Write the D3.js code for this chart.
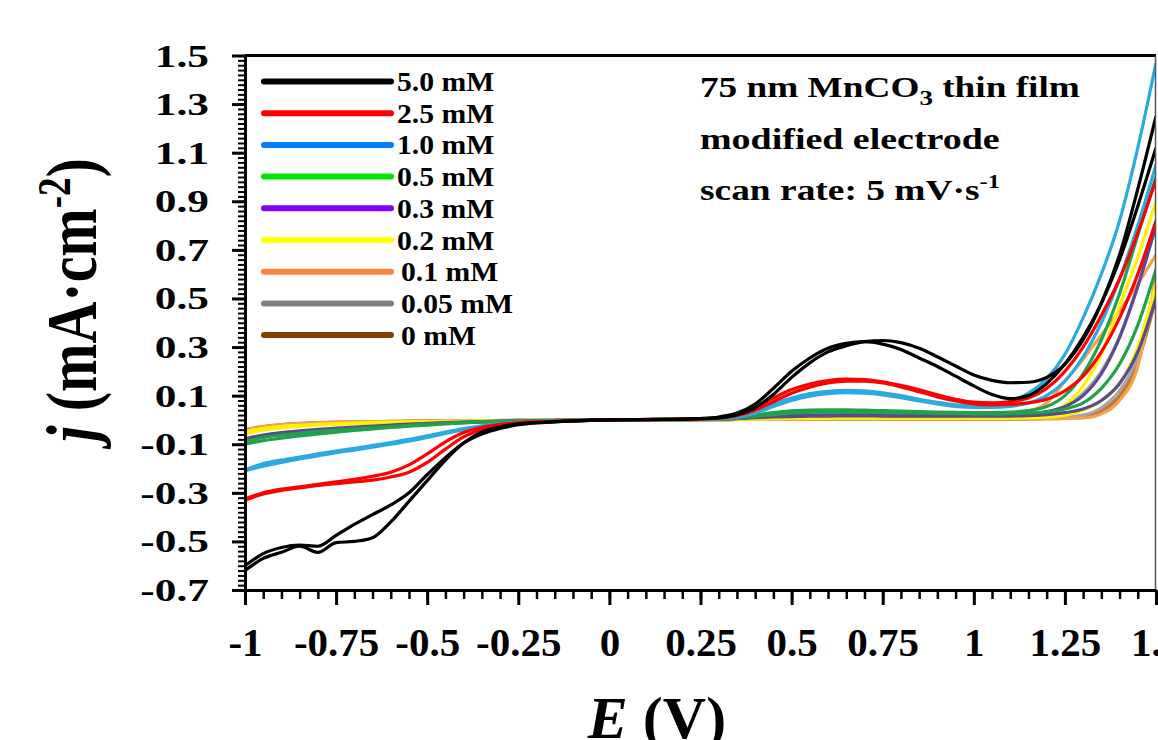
<!DOCTYPE html>
<html>
<head>
<meta charset="utf-8">
<script src="https://cdn.jsdelivr.net/npm/d3@7"></script>
<style>
  body { margin: 0; background: #fff; }
  svg text { font-family: "Liberation Serif", "Times New Roman", Times, serif; font-weight: bold; fill: #000; }
</style>
</head>
<body>
<svg width="1158" height="740"></svg>
<script>
// potential grid shared by all scans (V)
var E = [-1, -0.95, -0.9, -0.85, -0.8, -0.75, -0.7, -0.65, -0.6, -0.55, -0.5, -0.45, -0.4, -0.35, -0.3, -0.25,
  -0.15, 0, 0.15, 0.25,
  0.3, 0.35, 0.4, 0.45, 0.5, 0.55, 0.6, 0.65, 0.7, 0.75, 0.8, 0.85, 0.9, 0.95, 1.0, 1.05, 1.1, 1.15, 1.2, 1.25, 1.3, 1.35, 1.4, 1.45, 1.5];

var labels = ["5.0 mM", "2.5 mM", "1.0 mM", "0.5 mM", "0.3 mM", "0.2 mM", "0.1 mM", "0.05 mM", "0 mM"];
var legendColors = ["#000000", "#ff0000", "#0080ff", "#00e600", "#8000ff", "#ffff00", "#ff8040", "#808080", "#804000"];
var lineColors = ["#000000", "#ff0000", "#29abe2", "#1fa24a", "#5b4a91", "#fff200", "#f5a24b", "#a6a6a6", "#c07a35"];

// j (mA/cm2), two branches of every scan
var j50a = [-0.60, -0.55, -0.525, -0.515, -0.52, -0.475, -0.43, -0.39, -0.35, -0.30, -0.225, -0.155, -0.095, -0.058, -0.035, -0.02,
  -0.008, 0, 0.002, 0.005,
  0.008, 0.02, 0.05, 0.105, 0.175, 0.235, 0.28, 0.305, 0.322, 0.327, 0.318, 0.295, 0.26, 0.222, 0.185, 0.163, 0.153, 0.155, 0.175, 0.23, 0.33, 0.48, 0.68, 0.95, 1.25];
var j50b = [-0.62, -0.57, -0.545, -0.52, -0.545, -0.505, -0.50, -0.485, -0.42, -0.335, -0.25, -0.165, -0.095, -0.05, -0.028, -0.016,
  -0.007, 0, 0.002, 0.006,
  0.012, 0.028, 0.065, 0.13, 0.2, 0.255, 0.295, 0.315, 0.322, 0.312, 0.29, 0.255, 0.22, 0.18, 0.14, 0.105, 0.088, 0.1, 0.15, 0.23, 0.34, 0.48, 0.66, 0.88, 1.12];
var j25a = [-0.325, -0.30, -0.285, -0.275, -0.265, -0.255, -0.245, -0.232, -0.215, -0.185, -0.14, -0.09, -0.052, -0.03, -0.018, -0.012,
  -0.006, 0, 0.002, 0.005,
  0.01, 0.022, 0.05, 0.09, 0.125, 0.148, 0.162, 0.168, 0.166, 0.157, 0.142, 0.124, 0.103, 0.085, 0.073, 0.07, 0.075, 0.09, 0.13, 0.2, 0.3, 0.43, 0.58, 0.77, 0.99];
var j25b = [-0.33, -0.305, -0.29, -0.28, -0.27, -0.262, -0.255, -0.248, -0.235, -0.215, -0.175, -0.12, -0.07, -0.038, -0.02, -0.012,
  -0.006, 0, 0.002, 0.004,
  0.008, 0.018, 0.04, 0.075, 0.11, 0.135, 0.152, 0.16, 0.16, 0.152, 0.136, 0.116, 0.095, 0.078, 0.066, 0.062, 0.064, 0.07, 0.085, 0.12, 0.18, 0.28, 0.42, 0.6, 0.82];
var j10a = [-0.205, -0.18, -0.165, -0.153, -0.14, -0.128, -0.117, -0.105, -0.093, -0.08, -0.065, -0.05, -0.036, -0.024, -0.015, -0.01,
  -0.005, 0, 0.002, 0.004,
  0.006, 0.015, 0.035, 0.065, 0.09, 0.108, 0.118, 0.122, 0.12, 0.112, 0.1, 0.085, 0.072, 0.062, 0.058, 0.06, 0.075, 0.11, 0.17, 0.27, 0.42, 0.6, 0.82, 1.12, 1.47];
var j10b = [-0.21, -0.19, -0.175, -0.16, -0.148, -0.135, -0.124, -0.112, -0.1, -0.087, -0.072, -0.056, -0.04, -0.026, -0.016, -0.01,
  -0.005, 0, 0.002, 0.003,
  0.005, 0.012, 0.028, 0.055, 0.08, 0.098, 0.108, 0.112, 0.11, 0.103, 0.092, 0.078, 0.066, 0.056, 0.052, 0.052, 0.056, 0.07, 0.1, 0.16, 0.26, 0.4, 0.58, 0.8, 1.05];
var j05a = [-0.09, -0.072, -0.062, -0.055, -0.048, -0.042, -0.037, -0.032, -0.027, -0.022, -0.018, -0.014, -0.011, -0.008, -0.006, -0.005,
  -0.003, 0, 0.001, 0.002,
  0.004, 0.01, 0.02, 0.03, 0.037, 0.04, 0.041, 0.041, 0.04, 0.038, 0.036, 0.034, 0.032, 0.031, 0.03, 0.03, 0.032, 0.038, 0.055, 0.1, 0.19, 0.33, 0.52, 0.76, 1.0];
var j05b = [-0.1, -0.085, -0.075, -0.066, -0.058, -0.05, -0.043, -0.037, -0.031, -0.026, -0.021, -0.016, -0.012, -0.009, -0.007, -0.005,
  -0.003, 0, 0.001, 0.002,
  0.003, 0.008, 0.015, 0.022, 0.028, 0.031, 0.032, 0.032, 0.031, 0.03, 0.029, 0.028, 0.027, 0.026, 0.025, 0.025, 0.026, 0.028, 0.033, 0.045, 0.07, 0.13, 0.23, 0.39, 0.62];
var j03a = [-0.078, -0.062, -0.052, -0.045, -0.039, -0.034, -0.029, -0.025, -0.021, -0.017, -0.014, -0.011, -0.009, -0.007, -0.005, -0.004,
  -0.002, 0, 0.001, 0.002,
  0.003, 0.006, 0.011, 0.015, 0.018, 0.02, 0.021, 0.021, 0.021, 0.021, 0.02, 0.02, 0.02, 0.02, 0.02, 0.02, 0.021, 0.024, 0.034, 0.055, 0.1, 0.19, 0.34, 0.55, 0.8];
var j03b = [-0.085, -0.07, -0.06, -0.052, -0.045, -0.04, -0.034, -0.029, -0.024, -0.02, -0.016, -0.013, -0.01, -0.008, -0.006, -0.004,
  -0.002, 0, 0.001, 0.001,
  0.002, 0.005, 0.009, 0.012, 0.014, 0.016, 0.016, 0.017, 0.017, 0.016, 0.016, 0.016, 0.016, 0.016, 0.016, 0.016, 0.016, 0.018, 0.022, 0.03, 0.045, 0.08, 0.15, 0.28, 0.5];
var j02a = [-0.05, -0.035, -0.027, -0.022, -0.018, -0.015, -0.013, -0.011, -0.009, -0.008, -0.007, -0.006, -0.005, -0.004, -0.004, -0.003,
  -0.002, 0, 0.001, 0.001,
  0.002, 0.003, 0.005, 0.006, 0.007, 0.008, 0.008, 0.008, 0.008, 0.008, 0.008, 0.008, 0.008, 0.008, 0.008, 0.008, 0.009, 0.012, 0.025, 0.06, 0.14, 0.27, 0.47, 0.67, 0.9];
var j02b = [-0.058, -0.042, -0.033, -0.027, -0.022, -0.018, -0.015, -0.013, -0.011, -0.01, -0.008, -0.007, -0.006, -0.005, -0.004, -0.003,
  -0.002, 0, 0.001, 0.001,
  0.001, 0.002, 0.004, 0.005, 0.006, 0.006, 0.007, 0.007, 0.007, 0.007, 0.007, 0.007, 0.007, 0.007, 0.007, 0.007, 0.007, 0.008, 0.011, 0.02, 0.04, 0.08, 0.15, 0.3, 0.56];
var j01a = [-0.042, -0.028, -0.02, -0.015, -0.012, -0.01, -0.008, -0.007, -0.006, -0.005, -0.005, -0.004, -0.004, -0.003, -0.003, -0.002,
  -0.001, 0, 0.001, 0.001,
  0.002, 0.003, 0.004, 0.005, 0.005, 0.005, 0.005, 0.005, 0.005, 0.005, 0.005, 0.005, 0.005, 0.005, 0.006, 0.008, 0.015, 0.035, 0.07, 0.16, 0.25, 0.35, 0.45, 0.56, 0.68];
var j01b = [-0.046, -0.032, -0.023, -0.018, -0.014, -0.011, -0.009, -0.008, -0.007, -0.006, -0.005, -0.005, -0.004, -0.003, -0.003, -0.002,
  -0.001, 0, 0.001, 0.001,
  0.001, 0.002, 0.003, 0.004, 0.004, 0.004, 0.004, 0.004, 0.004, 0.004, 0.004, 0.004, 0.004, 0.004, 0.004, 0.004, 0.004, 0.004, 0.005, 0.006, 0.008, 0.025, 0.08, 0.22, 0.6];
var j005a = [-0.045, -0.031, -0.023, -0.017, -0.013, -0.011, -0.009, -0.008, -0.007, -0.006, -0.005, -0.004, -0.004, -0.003, -0.003, -0.002,
  -0.001, 0, 0.001, 0.001,
  0.002, 0.003, 0.004, 0.005, 0.005, 0.006, 0.006, 0.006, 0.006, 0.006, 0.006, 0.006, 0.006, 0.006, 0.006, 0.006, 0.007, 0.01, 0.02, 0.05, 0.11, 0.2, 0.34, 0.55, 0.8];
var j005b = [-0.05, -0.035, -0.026, -0.02, -0.016, -0.013, -0.011, -0.009, -0.008, -0.007, -0.006, -0.005, -0.004, -0.004, -0.003, -0.002,
  -0.001, 0, 0.001, 0.001,
  0.001, 0.002, 0.003, 0.004, 0.004, 0.005, 0.005, 0.005, 0.005, 0.005, 0.005, 0.005, 0.005, 0.005, 0.005, 0.005, 0.005, 0.006, 0.009, 0.012, 0.02, 0.05, 0.12, 0.26, 0.52];
var j0a = [-0.04, -0.027, -0.019, -0.014, -0.011, -0.009, -0.008, -0.007, -0.006, -0.005, -0.004, -0.004, -0.003, -0.003, -0.002, -0.002,
  -0.001, 0, 0.001, 0.001,
  0.001, 0.002, 0.003, 0.003, 0.004, 0.004, 0.004, 0.004, 0.004, 0.004, 0.004, 0.004, 0.004, 0.004, 0.004, 0.004, 0.004, 0.005, 0.007, 0.01, 0.015, 0.04, 0.1, 0.24, 0.5];
var j0b = [-0.044, -0.03, -0.022, -0.016, -0.013, -0.011, -0.009, -0.008, -0.007, -0.006, -0.005, -0.004, -0.004, -0.003, -0.003, -0.002,
  -0.001, 0, 0.001, 0.001,
  0.001, 0.002, 0.002, 0.003, 0.003, 0.003, 0.003, 0.003, 0.003, 0.003, 0.003, 0.003, 0.003, 0.003, 0.003, 0.003, 0.003, 0.004, 0.005, 0.006, 0.01, 0.03, 0.09, 0.23, 0.58];

var branches = [[j50a, j50b], [j25a, j25b], [j10a, j10b], [j05a, j05b], [j03a, j03b],
  [j02a, j02b], [j01a, j01b], [j005a, j005b], [j0a, j0b]];

var xTicks = [-1, -0.75, -0.5, -0.25, 0, 0.25, 0.5, 0.75, 1, 1.25, 1.5];
var yTicks = [-0.7, -0.5, -0.3, -0.1, 0.1, 0.3, 0.5, 0.7, 0.9, 1.1, 1.3, 1.5];

var svg = d3.select("svg");
var x = d3.scaleLinear().domain([-1, 1.5]).range([245, 1156]);
var y = d3.scaleLinear().domain([-0.7, 1.5]).range([590, 55.5]);

svg.append("defs").append("clipPath").attr("id", "plot")
  .append("rect").attr("x", x(-1)).attr("y", y(1.5)).attr("width", x(1.5) - x(-1)).attr("height", y(-0.7) - y(1.5));

var line = d3.line()
  .x(function(d, i) { return x(E[i]); })
  .y(function(d) { return y(d); })
  .curve(d3.curveMonotoneX);

// curves, lowest concentration first so black ends on top
var curves = svg.append("g").attr("clip-path", "url(#plot)");
for (var s = branches.length - 1; s >= 0; s--) {
  branches[s].forEach(function(b) {
    curves.append("path")
      .attr("d", line(b))
      .attr("fill", "none")
      .attr("stroke", lineColors[s])
      .attr("stroke-width", 3.2)
      .attr("stroke-linejoin", "round");
  });
}

// frame
svg.append("line").attr("x1", x(-1)).attr("x2", x(1.5)).attr("y1", y(1.5)).attr("y2", y(1.5))
  .attr("stroke", "#000").attr("stroke-width", 3);
svg.append("line").attr("x1", x(1.5) - 0.5).attr("x2", x(1.5) - 0.5).attr("y1", y(1.5)).attr("y2", y(-0.7))
  .attr("stroke", "#555").attr("stroke-width", 1.5);

// minor ticks
svg.append("g").attr("transform", "translate(0," + y(-0.7) + ")")
  .call(d3.axisBottom(x).tickValues(d3.range(-1, 1.501, 0.05)).tickSize(9).tickSizeOuter(0).tickFormat(""))
  .call(function(g) { g.select(".domain").remove(); g.selectAll("line").attr("stroke-width", 2.5); });
svg.append("g").attr("transform", "translate(" + x(-1) + ",0)")
  .call(d3.axisLeft(y).tickValues(d3.range(-0.7, 1.501, 0.02)).tickSize(7).tickSizeOuter(0).tickFormat(""))
  .call(function(g) { g.select(".domain").remove(); g.selectAll("line").attr("stroke-width", 2); });

// major axes
var gx = svg.append("g").attr("transform", "translate(0," + y(-0.7) + ")")
  .call(d3.axisBottom(x).tickValues(xTicks).tickSize(15).tickSizeOuter(0).tickFormat(function(d) { return String(d); }));
gx.attr("font-size", null).attr("font-family", null);
gx.select(".domain").attr("stroke-width", 3);
gx.selectAll(".tick line").attr("stroke-width", 3);
gx.selectAll(".tick text").attr("y", 66).attr("dy", 0).style("font-size", "41px");

var gy = svg.append("g").attr("transform", "translate(" + x(-1) + ",0)")
  .call(d3.axisLeft(y).tickValues(yTicks).tickSize(13).tickSizeOuter(0).tickFormat(function(d) { return d.toFixed(1); }));
gy.attr("font-size", null).attr("font-family", null);
gy.select(".domain").attr("stroke-width", 3);
gy.selectAll(".tick line").attr("stroke-width", 3);
gy.selectAll(".tick text").attr("x", -36 / 1.4).attr("dy", "0.34em")
  .attr("transform", "scale(1.4,1)").style("font-size", "31px");

// axis titles
var xt = svg.append("text").attr("x", 657).attr("y", 738).attr("text-anchor", "middle").style("font-size", "60px");
xt.append("tspan").style("font-style", "italic").text("E");
xt.append("tspan").text(" (V)");

var yt = svg.append("text").attr("transform", "translate(96,300) scale(1.25,1) rotate(-90)")
  .attr("text-anchor", "middle").style("font-size", "58px");
yt.append("tspan").style("font-style", "italic").text("j");
yt.append("tspan").text(" (mA·cm");
yt.append("tspan").attr("dy", -21).style("font-size", "37px").text("-2");
yt.append("tspan").attr("dy", 21).text(")");

// legend
var leg = svg.append("g");
labels.forEach(function(l, i) {
  var ly = 81.5 + i * 31.7;
  leg.append("line").attr("x1", 264).attr("x2", 391).attr("y1", ly).attr("y2", ly)
    .attr("stroke", legendColors[i]).attr("stroke-width", 6).attr("stroke-linecap", "round");
  leg.append("text").attr("transform", "translate(" + (i < 6 ? 397 : 401) + "," + (ly + 9.5) + ") scale(1.06,1)")
    .style("font-size", "28px").text(l);
});

// note
function fitX(t, x0, y0, w) {
  var bb = t.node().getBBox();
  t.attr("transform", "translate(" + x0 + "," + y0 + ") scale(" + (w / bb.width) + ",1)");
}
var n1 = svg.append("text").style("font-size", "29px");
n1.append("tspan").text("75 nm MnCO");
n1.append("tspan").attr("dy", 8).style("font-size", "21px").text("3");
n1.append("tspan").attr("dy", -8).text(" thin film");
fitX(n1, 700, 97, 380);
var n2 = svg.append("text").style("font-size", "29px").text("modified electrode");
fitX(n2, 700, 149, 300);
var n3 = svg.append("text").style("font-size", "29px");
n3.append("tspan").text("scan rate: 5 mV·s");
n3.append("tspan").attr("dy", -12).style("font-size", "19px").text("-1");
fitX(n3, 700, 200, 300);
</script>
</body>
</html>
